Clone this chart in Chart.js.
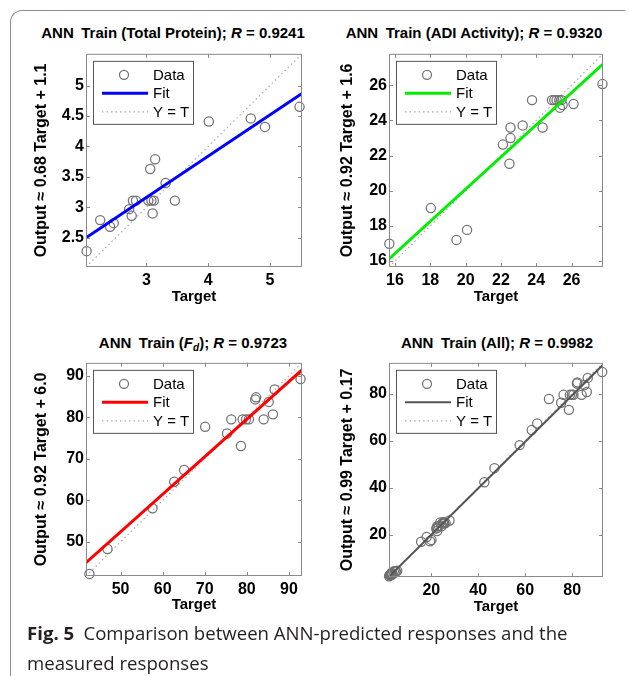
<!DOCTYPE html>
<html>
<head>
<meta charset="utf-8">
<script src="https://cdn.jsdelivr.net/npm/chart.js@4.4.1/dist/chart.umd.min.js"></script>
<style>
  html, body { margin: 0; padding: 0; background: #fff; }
  body { width: 629px; height: 676px; position: relative; overflow: hidden; }
  .frame { position: absolute; left: 10px; top: 10px; width: 614px; height: 700px;
    border-top: 1.5px solid #8c8c8c; border-left: 1.5px solid #8c8c8c; border-top-left-radius: 12px; }
  .panel { position: absolute; width: 300px; height: 270px; }
  .ttl { position: absolute; width: 340px; text-align: center; font: bold 15px "Liberation Sans", Arial, sans-serif;
    color: #000; white-space: nowrap; line-height: 18px; }
  .ttl sub { font-size: 10px; vertical-align: -3px; line-height: 0; }
  .caption { position: absolute; left: 27px; top: 618px; width: 595px; font: 18.6px "Open Sans", sans-serif;
    line-height: 30px; color: #231f20; }
  .caption b { font-weight: 700; }
</style>
</head>
<body>
<div class="frame"></div>

<div class="ttl" style="left:3px; top:24px;">ANN&ensp;Train (Total Protein); <i>R</i> = 0.9241</div>
<div class="ttl" style="left:304px; top:24px;">ANN&ensp;Train (ADI Activity); <i>R</i> = 0.9320</div>
<div class="ttl" style="left:23px; top:334px;">ANN&ensp;Train (<i>F</i><sub><i>d</i></sub>); <i>R</i> = 0.9723</div>
<div class="ttl" style="left:327px; top:334px;">ANN&ensp;Train (All); <i>R</i> = 0.9982</div>

<div class="panel" style="left:22px; top:48px;"><canvas id="cTP"></canvas></div>
<div class="panel" style="left:325px; top:48px;"><canvas id="cADI"></canvas></div>
<div class="panel" style="left:22px; top:357px;"><canvas id="cFD"></canvas></div>
<div class="panel" style="left:325px; top:357px;"><canvas id="cALL"></canvas></div>

<div class="caption"><b>Fig. 5</b>&ensp;Comparison between ANN-predicted responses and the measured responses</div>

<script>
// Total Protein
const tpTarget = [2.03, 2.25, 2.41, 2.47, 2.72, 2.76, 2.78, 2.83, 3.03, 3.08, 3.12, 3.10, 3.06, 3.14, 3.31, 3.46, 4.01, 4.69, 4.92, 5.48];
const tpOutput = [2.28, 2.79, 2.68, 2.74, 2.97, 2.86, 3.11, 3.11, 3.11, 3.11, 3.11, 2.90, 3.63, 3.79, 3.40, 3.11, 4.41, 4.46, 4.32, 4.65];
const tpLimits = [2.02, 5.52];
const tpFit = [2.50, 4.87];
const tpTicks = [2.5, 3, 3.5, 4, 4.5, 5];
const tpXTicks = [3, 4, 5];

// ADI Activity
const adiTarget = [15.68, 18.03, 19.48, 20.08, 22.11, 22.54, 22.54, 22.48, 23.23, 23.76, 24.36, 24.89, 25.02, 25.15, 25.30, 25.43, 25.34, 25.49, 26.11, 27.75];
const adiOutput = [16.98, 19.01, 17.20, 17.77, 22.62, 22.99, 23.59, 21.53, 23.71, 25.15, 23.59, 25.15, 25.15, 25.15, 25.15, 25.15, 24.72, 24.87, 24.93, 26.06];
const adiLimits = [15.66, 27.78];
const adiFit = [16.12, 27.2];
const adiTicks = [16, 18, 20, 22, 24, 26];

// Fd
const fdTarget = [42.6, 46.9, 57.6, 62.75, 65.1, 70.1, 75.3, 76.3, 78.6, 79.0, 79.8, 80.5, 82.0, 82.2, 84.0, 85.2, 86.2, 86.6, 92.75];
const fdOutput = [42.3, 48.3, 58.1, 64.5, 67.3, 77.7, 76.1, 79.5, 73.1, 79.5, 79.5, 79.5, 84.3, 84.8, 79.5, 83.7, 80.7, 86.7, 89.2];
const fdLimits = [41.8, 93.1];
const fdFit = [45.0, 91.4];
const fdTicks = [50, 60, 70, 80, 90];

// All
const allLimits = [2.0, 93.1];
const allFit = [2.15, 92.3];
const allTicks = [20, 40, 60, 80];

const legendLabels = ['Data', 'Fit', 'Y = T'];
const FONT = '"Liberation Sans", Arial, sans-serif';

const boxPlugin = {
  id: 'matlabBox',
  afterDatasetsDraw(chart) {
    const { ctx, chartArea: a, scales: { x, y } } = chart;
    ctx.save();
    ctx.strokeStyle = '#8a8a8a';
    ctx.lineWidth = 1;
    ctx.strokeRect(a.left + 0.5, a.top + 0.5, a.right - a.left - 1, a.bottom - a.top - 1);
    ctx.beginPath();
    x.ticks.forEach(t => {
      const px = Math.round(x.getPixelForValue(t.value)) + 0.5;
      ctx.moveTo(px, a.bottom); ctx.lineTo(px, a.bottom - 4);
      ctx.moveTo(px, a.top); ctx.lineTo(px, a.top + 4);
    });
    y.ticks.forEach(t => {
      const py = Math.round(y.getPixelForValue(t.value)) + 0.5;
      ctx.moveTo(a.left, py); ctx.lineTo(a.left + 4, py);
      ctx.moveTo(a.right, py); ctx.lineTo(a.right - 4, py);
    });
    ctx.stroke();

    // legend box, top-left inside the axes
    const ds = chart.data.datasets;
    const bx = a.left + 7, by = a.top + 7;
    ctx.fillStyle = '#fff';
    ctx.fillRect(bx, by, 100, 63);
    ctx.strokeStyle = '#555';
    ctx.strokeRect(bx + 0.5, by + 0.5, 100, 63);
    const rows = [by + 14, by + 32.5, by + 51];
    ctx.beginPath();
    ctx.strokeStyle = ds[0].borderColor;
    ctx.lineWidth = ds[0].pointBorderWidth;
    ctx.arc(bx + 31, rows[0], 4.5, 0, Math.PI * 2);
    ctx.stroke();
    ctx.beginPath();
    ctx.strokeStyle = ds[1].borderColor;
    ctx.lineWidth = ds[1].borderWidth;
    ctx.moveTo(bx + 9, rows[1]); ctx.lineTo(bx + 55, rows[1]);
    ctx.stroke();
    ctx.beginPath();
    ctx.strokeStyle = ds[2].borderColor;
    ctx.lineWidth = ds[2].borderWidth;
    ctx.setLineDash(ds[2].borderDash);
    ctx.moveTo(bx + 9, rows[2]); ctx.lineTo(bx + 55, rows[2]);
    ctx.stroke();
    ctx.setLineDash([]);
    ctx.fillStyle = '#000';
    ctx.font = '15px ' + FONT;
    ctx.textBaseline = 'middle';
    legendLabels.forEach((s, i) => ctx.fillText(s, bx + 60, rows[i] + 1));
    ctx.restore();
  }
};

function makePanel(id, opt) {
  const pts = opt.target.map((v, i) => ({ x: v, y: opt.output[i] }));
  const lim = opt.limits;
  const setTicks = arr => scale => { scale.ticks = arr.map(v => ({ value: v })); };
  new Chart(document.getElementById(id), {
    type: 'scatter',
    data: {
      datasets: [
        { label: 'Data', data: pts, showLine: false, pointStyle: 'circle', pointRadius: 4.6,
          pointBorderWidth: 1.25, borderColor: '#707070', backgroundColor: 'rgba(0,0,0,0)', clip: false, order: 2 },
        { label: 'Fit', data: [{ x: lim[0], y: opt.fit[0] }, { x: lim[1], y: opt.fit[1] }], showLine: true,
          pointRadius: 0, borderColor: opt.color, borderWidth: opt.fitWidth || 3, order: 1 },
        { label: 'Y = T', data: [{ x: lim[0], y: lim[0] }, { x: lim[1], y: lim[1] }], showLine: true,
          pointRadius: 0, borderColor: '#a8a8a8', borderWidth: 1.2, borderDash: [1.5, 3], order: 3 }
      ]
    },
    options: {
      responsive: false,
      animation: false,
      events: [],
      layout: { padding: { left: 0, top: opt.padTop, right: opt.padRight, bottom: 0 } },
      plugins: { legend: { display: false }, tooltip: { enabled: false } },
      scales: {
        x: {
          type: 'linear', min: lim[0], max: lim[1],
          afterBuildTicks: setTicks(opt.xTicks),
          afterFit: s => { s.height = opt.xHeight; s.paddingLeft = 0; s.paddingRight = 0; },
          grid: { display: false, drawTicks: false },
          border: { display: false },
          ticks: { padding: 4, color: '#000', font: { family: FONT, size: 16, weight: 'bold' }, maxRotation: 0,
            callback: v => String(v) },
          title: { display: true, text: 'Target', color: '#000', padding: { top: 0, bottom: opt.xTitlePad },
            font: { family: FONT, size: 15, weight: 'bold' } }
        },
        y: {
          type: 'linear', min: lim[0], max: lim[1],
          afterBuildTicks: setTicks(opt.yTicks),
          afterFit: s => { s.width = 64; s.paddingTop = 0; s.paddingBottom = 0; },
          grid: { display: false, drawTicks: false },
          border: { display: false },
          ticks: { padding: 2, color: '#000', font: { family: FONT, size: 16, weight: 'bold' },
            callback: v => String(v) },
          title: { display: true, text: opt.yTitle, color: '#000', padding: { top: opt.yTitlePad, bottom: 0 },
            font: { family: FONT, size: 16, weight: 'bold' } }
        }
      }
    },
    plugins: [boxPlugin]
  });
}

const canvasSize = id => { const c = document.getElementById(id); c.width = 300; c.height = 270; };
['cTP', 'cADI', 'cFD', 'cALL'].forEach(canvasSize);

makePanel('cTP', { target: tpTarget, output: tpOutput, limits: tpLimits, fit: tpFit, color: '#0000ff',
  xTicks: tpXTicks, yTicks: tpTicks, yTitle: 'Output \u2248 0.68 Target + 1.1',
  padTop: 4, padRight: 20, xHeight: 51, xTitlePad: 12, yTitlePad: 10 });
makePanel('cADI', { target: adiTarget, output: adiOutput, limits: adiLimits, fit: adiFit, color: '#00ee00',
  xTicks: adiTicks, yTicks: adiTicks, yTitle: 'Output \u2248 0.92 Target + 1.6',
  padTop: 4, padRight: 22, xHeight: 51, xTitlePad: 12, yTitlePad: 13 });
makePanel('cFD', { target: fdTarget, output: fdOutput, limits: fdLimits, fit: fdFit, color: '#ff0000',
  xTicks: fdTicks, yTicks: fdTicks, yTitle: 'Output \u2248 0.92 Target + 6.0',
  padTop: 4, padRight: 20, xHeight: 51, xTitlePad: 13, yTitlePad: 10 });
makePanel('cALL', { target: [...tpTarget, ...adiTarget, ...fdTarget], output: [...tpOutput, ...adiOutput, ...fdOutput],
  limits: allLimits, fit: allFit, color: '#555555', fitWidth: 2,
  xTicks: allTicks, yTicks: allTicks, yTitle: 'Output \u2248 0.99 Target + 0.17',
  padTop: 5, padRight: 22, xHeight: 50, xTitlePad: 11, yTitlePad: 13 });
</script>
</body>
</html>
